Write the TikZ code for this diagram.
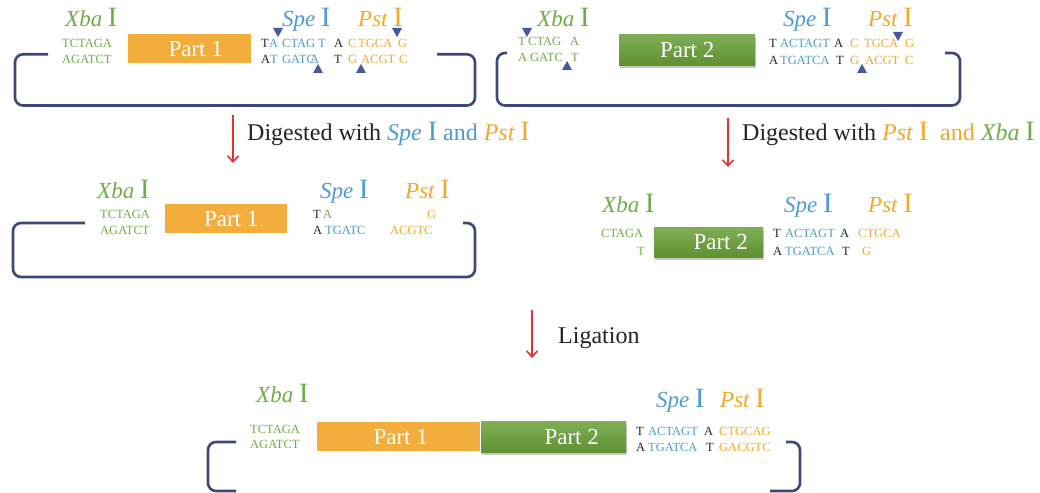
\documentclass[tikz,border=0pt]{standalone}
\usepackage{fontspec}
\setmainfont{Liberation Serif}
\usetikzlibrary{arrows.meta,shadows}
\definecolor{cgreen}{RGB}{112,173,71}
\definecolor{cblue}{RGB}{76,155,212}
\definecolor{corange}{RGB}{245,167,40}
\definecolor{cnavy}{RGB}{60,72,122}
\definecolor{ctri}{RGB}{70,88,160}
\definecolor{cred}{RGB}{230,50,45}
\definecolor{cbox}{RGB}{243,173,60}
\definecolor{cgtop}{RGB}{128,174,86}
\definecolor{cgbot}{RGB}{94,145,50}
\definecolor{cblk}{RGB}{35,35,35}
\newcommand{\enzI}[2]{{\color{#2}\fontsize{23}{23}\selectfont\itshape #1\ \upshape\fontsize{28}{28}\selectfont I}}
\newcommand{\enzL}[2]{{\color{#2}\itshape #1\ \upshape\fontsize{28}{28}\selectfont I}}
\newcommand{\sq}[5]{\node[seq,text=#4] (#1) at (#2,#3) {#5};}
\newcommand{\tdown}[2]{\fill[ctri] (#1-5,#2) -- (#1+5,#2) -- (#1,#2+9) -- cycle;}
\newcommand{\tup}[2]{\fill[ctri] (#1-5,#2+9) -- (#1+5,#2+9) -- (#1,#2) -- cycle;}
\tikzset{
  seq/.style={inner sep=0pt, anchor=base west, font=\fontsize{12.5}{12.5}\selectfont},
  enz/.style={inner sep=0pt, anchor=base west},
  bracket/.style={draw=cnavy, line width=2.6pt, rounded corners=8pt},
  partone/.style={fill=cbox, text=white, font=\fontsize{23}{23}\selectfont, inner sep=0pt, anchor=north west},
  parttwo/.style={top color=cgtop, bottom color=cgbot, draw=none, inner sep=0pt, anchor=north west,
     drop shadow={opacity=0.3, shadow xshift=1pt, shadow yshift=-2.5pt, fill=black!70}},
  ptext/.style={text=white, font=\fontsize{23}{23}\selectfont, inner sep=0pt},
  redarrow/.style={draw=cred, line width=1.6pt, -{Straight Barb[length=6pt,width=11pt]}},
  lbl/.style={anchor=base west, inner sep=0pt, font=\fontsize{24}{24}\selectfont, text=cblk}
}
\begin{document}
\begin{tikzpicture}[x=1pt,y=-1pt]
\useasboundingbox (0,0) rectangle (1040,492);
\clip (0,0) rectangle (1040,492);
\fill[white] (0,0) rectangle (1040,492);

% ---------- Panel 1 ----------
\draw[bracket] (48,54.3) -- (15,54.3) -- (15,105.5) -- (475,105.5) -- (475,54.3) -- (437,54.3);
\node[enz] (x1) at (65,27) {\enzI{Xba}{cgreen}};
\node[enz] (s1) at (282,27) {\enzI{Spe}{cblue}};
\node[enz] (p1) at (358,27) {\enzI{Pst}{corange}};
\sq{a1}{62}{48}{cgreen}{TCTAGA}
\sq{a2}{62}{64}{cgreen}{AGATCT}
\node[partone, minimum width=123, minimum height=28.4] (b1) at (128,34.3) {};
\node[ptext] (b1t) at ([xshift=6pt]b1.center) {Part 1};
\sq{c1}{261}{48}{cblk}{T}
\sq{c2}{269}{48}{cblue}{A}
\sq{c3}{282}{48}{cblue}{CTAG}
\sq{c4}{318}{48}{cblue}{T}
\sq{c5}{334}{48}{cblk}{A}
\sq{c6}{348}{48}{corange}{C}
\sq{c7}{358}{48}{corange}{TGCA}
\sq{c8}{398}{48}{corange}{G}
\sq{d1}{261}{64}{cblk}{A}
\sq{d2}{270}{64}{cblue}{T}
\sq{d3}{282}{64}{cblue}{GATC}
\sq{d4}{310}{64}{cblue}{A}
\sq{d5}{334}{64}{cblk}{T}
\sq{d6}{348}{64}{corange}{G}
\sq{d7}{361}{64}{corange}{ACGT}
\sq{d8}{399}{64}{corange}{C}
\tdown{278}{28}
\tdown{397}{28}
\tup{318}{64}
\tup{361}{64}

% ---------- Panel 2 ----------
\draw[bracket] (507,53) -- (497,53) -- (497,105.5) -- (960,105.5) -- (960,53) -- (945,53);
\node[enz] (x2) at (537,27) {\enzI{Xba}{cgreen}};
\node[enz] (s2) at (783,27) {\enzI{Spe}{cblue}};
\node[enz] (p2) at (868,27) {\enzI{Pst}{corange}};
\sq{e1}{518}{46}{cgreen}{T}
\sq{e2}{528}{46}{cgreen}{CTAG}
\sq{e3}{570}{46}{cgreen}{A}
\sq{f1}{518}{62}{cgreen}{A}
\sq{f2}{530}{62}{cgreen}{GATC}
\sq{f3}{571}{62}{cgreen}{T}
\node[parttwo, minimum width=136, minimum height=31] (b2) at (619,34) {};
\node[ptext] (b2t) at ([xshift=0pt]b2.center) {Part 2};
\sq{g1}{769}{48}{cblk}{T}
\sq{g2}{780}{48}{cblue}{ACTAGT}
\sq{g3}{834}{48}{cblk}{A}
\sq{g4}{850}{48}{corange}{C}
\sq{g5}{864}{48}{corange}{TGCA}
\sq{g6}{905}{48}{corange}{G}
\sq{h1}{769}{64.5}{cblk}{A}
\sq{h2}{780}{64.5}{cblue}{TGATCA}
\sq{h3}{836}{64.5}{cblk}{T}
\sq{h4}{850}{64.5}{corange}{G}
\sq{h5}{865}{64.5}{corange}{ACGT}
\sq{h6}{905}{64.5}{corange}{C}
\tdown{527}{28}
\tdown{898}{32}
\tup{567}{61}
\tup{862}{64}

% ---------- Arrows and labels ----------
\coordinate (r1s) at (233,115);
\coordinate (r1e) at (233,163);
\draw[redarrow] (r1s) -- (r1e);
\node[lbl] (l1) at (247,140) {Digested with \enzL{Spe}{cblue} {\color{cblue}and} \enzL{Pst}{corange}};
\coordinate (r2s) at (728,118);
\coordinate (r2e) at (728,167);
\draw[redarrow] (r2s) -- (r2e);
\node[lbl] (l2) at (742,140) {Digested with \enzL{Pst}{corange}\ \ {\color{corange}and} \enzL{Xba}{cgreen}};
\coordinate (r3s) at (532,310);
\coordinate (r3e) at (532,358);
\draw[redarrow] (r3s) -- (r3e);
\node[lbl] (l3) at (558,343) {Ligation};

% ---------- Panel 3 ----------
\draw[bracket] (85,223) -- (13,223) -- (13,277) -- (475,277) -- (475,223) -- (463,223);
\node[enz] (x3) at (97,198) {\enzI{Xba}{cgreen}};
\node[enz] (s3) at (320,198) {\enzI{Spe}{cblue}};
\node[enz] (p3) at (405,198) {\enzI{Pst}{corange}};
\sq{i1}{100}{218}{cgreen}{TCTAGA}
\sq{i2}{100}{234}{cgreen}{AGATCT}
\node[partone, minimum width=122, minimum height=29] (b3) at (165,204) {};
\node[ptext] (b3t) at ([xshift=5pt]b3.center) {Part 1};
\sq{j1}{313}{218}{cblk}{T}
\sq{j2}{323}{218}{cgreen}{A}
\sq{j3}{427}{218}{corange}{G}
\sq{k1}{313}{234}{cblk}{A}
\sq{k2}{325}{234}{cblue}{TGATC}
\sq{k3}{390}{234}{corange}{ACGTC}

% ---------- Panel 4 ----------
\node[enz] (x4) at (602,212) {\enzI{Xba}{cgreen}};
\node[enz] (s4) at (784,212) {\enzI{Spe}{cblue}};
\node[enz] (p4) at (868,212) {\enzI{Pst}{corange}};
\sq{m1}{601}{237}{cgreen}{CTAGA}
\sq{m2}{637}{255}{cgreen}{T}
\node[parttwo, minimum width=109, minimum height=30] (b4) at (654,227) {};
\node[ptext] (b4t) at ([xshift=12pt]b4.center) {Part 2};
\sq{n1}{773}{237}{cblk}{T}
\sq{n2}{785}{237}{cblue}{ACTAGT}
\sq{n3}{840}{237}{cblk}{A}
\sq{n4}{858}{237}{corange}{CTGCA}
\sq{o1}{773}{255}{cblk}{A}
\sq{o2}{785}{255}{cblue}{TGATCA}
\sq{o3}{842}{255}{cblk}{T}
\sq{o4}{862}{255}{corange}{G}

% ---------- Panel 5 ----------
\draw[bracket] (236,442) -- (208,442) -- (208,491) -- (236,491);
\draw[bracket] (786,442) -- (800,442) -- (800,491) -- (770,491);
\node[enz] (x5) at (256,402) {\enzI{Xba}{cgreen}};
\node[enz] (s5) at (656,407) {\enzI{Spe}{cblue}};
\node[enz] (p5) at (720,407) {\enzI{Pst}{corange}};
\sq{q1}{250}{433}{cgreen}{TCTAGA}
\sq{q2}{250}{448}{cgreen}{AGATCT}
\node[partone, minimum width=163, minimum height=29] (b5) at (317,422) {};
\node[ptext] (b5t) at ([xshift=2pt]b5.center) {Part 1};
\node[parttwo, minimum width=145, minimum height=31] (b6) at (481,421) {};
\node[ptext] (b6t) at ([xshift=18pt]b6.center) {Part 2};
\sq{t1}{636}{435}{cblk}{T}
\sq{t2}{648}{435}{cblue}{ACTAGT}
\sq{t3}{704}{435}{cblk}{A}
\sq{t4}{719}{435}{corange}{CTGCAG}
\sq{u1}{636}{451}{cblk}{A}
\sq{u2}{648}{451}{cblue}{TGATCA}
\sq{u3}{706}{451}{cblk}{T}
\sq{u4}{719}{451}{corange}{GACGTC}
\end{tikzpicture}
\end{document}
